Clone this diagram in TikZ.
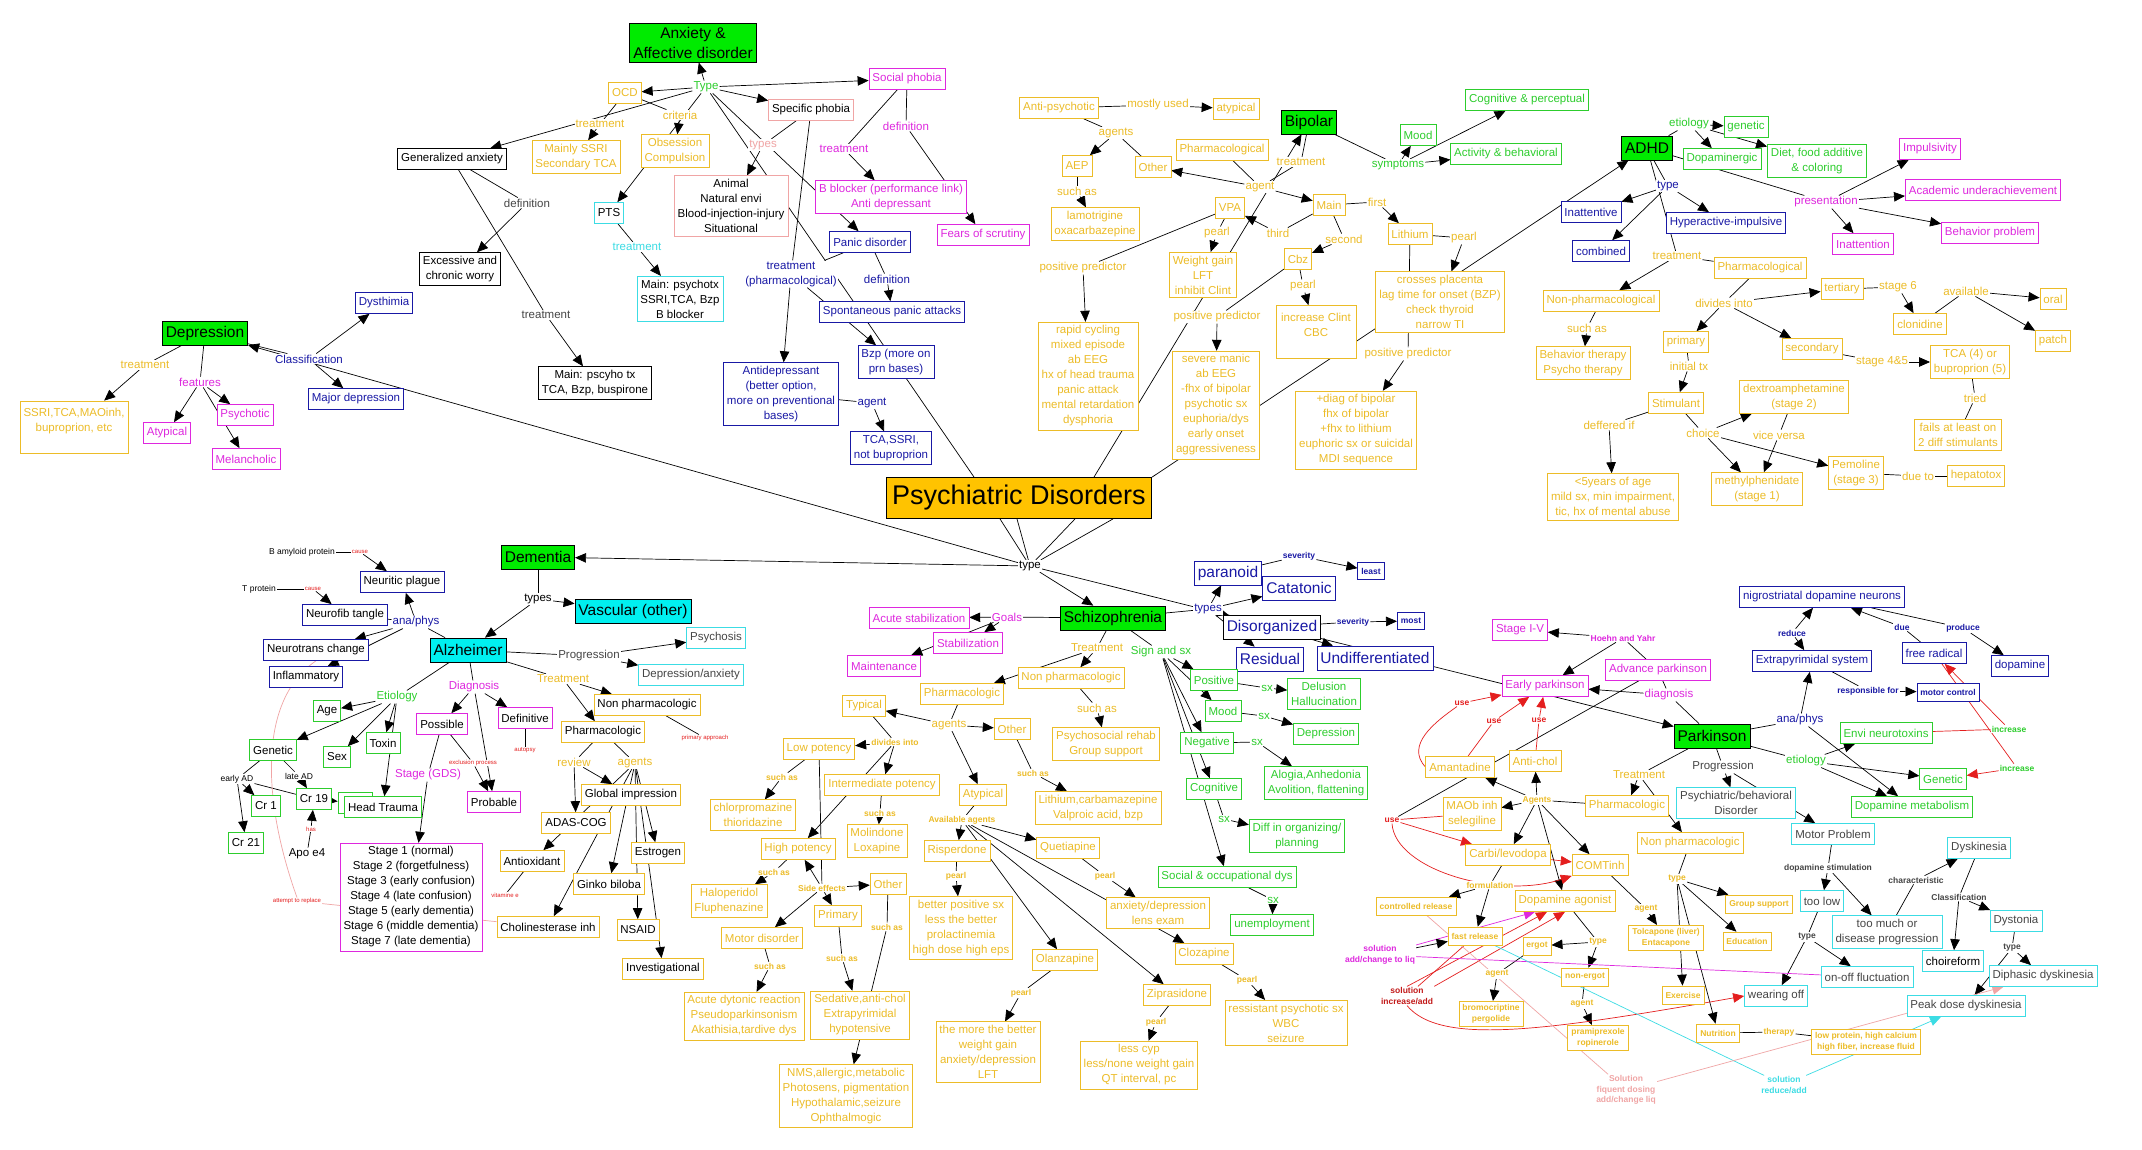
\documentclass[tikz,border=0pt]{standalone}
\usepackage{fontspec}
\setmainfont{Liberation Sans}
\usetikzlibrary{arrows.meta}
\pgfdeclarelayer{bg}
\pgfsetlayers{bg,main}
\definecolor{gold}{RGB}{236,188,40}
\definecolor{mag}{RGB}{222,40,222}
\definecolor{navy}{RGB}{25,25,165}
\definecolor{grn}{RGB}{45,205,45}
\definecolor{cyn}{RGB}{60,220,228}
\definecolor{pnk}{RGB}{240,165,165}
\definecolor{rd}{RGB}{228,30,30}
\definecolor{limefill}{RGB}{0,235,0}
\definecolor{cyanfill}{RGB}{0,240,240}
\definecolor{orng}{RGB}{255,195,0}
\definecolor{gry}{RGB}{70,70,70}

\begin{document}
\begin{tikzpicture}[x=1pt,y=-1pt,
  every node/.style={fill=white, inner xsep=3.5pt, inner ysep=3.5pt, align=center,
    font=\fontsize{11.5}{15}\selectfont},
  bx/.style={draw, line width=0.7pt, minimum height=21pt},
  ybx/.style={bx, draw=gold, text=gold},
  ykb/.style={bx, draw=gold},
  gbx/.style={bx, draw=grn, text=grn},
  gkb/.style={bx, draw=grn},
  mbx/.style={bx, draw=mag, text=mag},
  mkb/.style={bx, draw=mag},
  nbx/.style={bx, draw=navy, text=navy},
  nkb/.style={bx, draw=navy},
  cbx/.style={bx, draw=cyn, text=gry},
  kbx/.style={bx, draw=black},
  pkb/.style={bx, draw=pnk},
  hd/.style={draw, line width=0.7pt, fill=limefill, minimum height=24pt, font=\fontsize{15.5}{20}\selectfont},
  hdc/.style={hd, fill=cyanfill},
  bigf/.style={font=\fontsize{15.5}{20}\selectfont, minimum height=24pt},
  smb/.style={font=\fontsize{8.5}{10.5}\selectfont\bfseries, minimum height=18pt},
  lk/.style={inner sep=1pt},
  ylk/.style={lk, text=gold},
  sl/.style={inner sep=1pt, font=\fontsize{8.5}{10.5}\selectfont\bfseries},
  ysl/.style={sl, text=gold},
  tl/.style={inner sep=0.5pt, text=rd, font=\fontsize{6}{7}\selectfont},
  ln/.style={line width=0.7pt},
  arr/.style={line width=0.7pt, -{Triangle[length=11pt,width=9.5pt]}},
  rln/.style={ln, draw=rd},
  rarr/.style={arr, draw=rd},
]
\useasboundingbox (0,0) rectangle (2142,1150);

% ---- anxiety
\node[hd] (anx) at (693,43) {Anxiety \&\\Affective disorder};
\node[lk, text=grn] (tyA) at (706,87) {Type};
\node[ybx] (ocd) at (625,93) {OCD};
\node[ylk] (crit) at (680,115) {criteria};
\node[ylk] (trO) at (600,124) {treatment};
\node[ybx] (ssri) at (576,157) {Mainly SSRI\\Secondary TCA};
\node[ybx] (obs) at (675,151) {Obsession\\Compulsion};
\node[bx, draw=cyn] (pts) at (609,213) {PTS};
\node[lk, text=cyn] (trP) at (637,247) {treatment};
\node[bx, draw=cyn] (ptsT) at (680,299) {Main: psychotx\\SSRI,TCA, Bzp\\B blocker};
\node[pkb] (spec) at (811,110) {Specific phobia};
\node[lk, text=pnk] (tyS) at (763,145) {types};
\node[pkb] (anim) at (731,206) {Animal\\Natural envi\\Blood-injection-injury\\Situational};
\node[mbx] (soc) at (907,79) {Social phobia};
\node[lk, text=mag] (defS) at (906,126) {definition};
\node[lk, text=mag] (trS) at (844,149) {treatment};
\node[mbx] (bbl) at (891,197) {B blocker (performance link)\\Anti depressant};
\node[mbx] (fear) at (983,235) {Fears of scrutiny};
\node[nbx] (pan) at (870,242) {Panic disorder};
\node[lk, text=navy] (defP) at (887,279) {definition};
\node[lk, text=navy] (trPh) at (791,274) {treatment\\(pharmacological)};
\node[nbx] (spon) at (892,312) {Spontaneous panic attacks};
\node[nbx] (bzp) at (896,362) {Bzp (more on\\prn bases)};
\node[nbx] (antid) at (781,394) {Antidepressant\\(better option,\\more on preventional\\bases)};
\node[lk, text=navy] (agA) at (872,403) {agent};
\node[nbx] (tca) at (891,448) {TCA,SSRI,\\not buproprion};
\node[kbx] (gad) at (452,159) {Generalized anxiety};
\node[lk, text=gry] (defG) at (527,203) {definition};
\node[kbx] (worry) at (460,269) {Excessive and\\chronic worry};
\node[lk, text=gry] (trG) at (546,315) {treatment};
\node[kbx] (gadT) at (595,383) {Main: pscyho tx\\TCA, Bzp, buspirone};

% ---- depression
\node[hd] (dep) at (205,333) {Depression};
\node[ylk] (trD) at (145,365) {treatment};
\node[lk, text=mag] (feat) at (200,382) {features};
\node[lk, text=navy] (cls) at (309,359) {Classification};
\node[nbx] (dys) at (384,303) {Dysthimia};
\node[nbx] (maj) at (356,399) {Major depression};
\node[ybx, minimum height=52pt] (depT) at (74,427) {SSRI,TCA,MAOinh,\\buproprion, etc\\\mbox{}};
\node[mbx] (atyD) at (167,433) {Atypical};
\node[mbx] (psyD) at (245,415) {Psychotic};
\node[mbx] (mel) at (246,459) {Melancholic};

% ---- root
\node[draw, line width=0.7pt, fill=orng, inner xsep=6pt, inner ysep=8pt,
  font=\fontsize{27}{30}\selectfont] (pd) at (1019,498) {Psychiatric Disorders};
\node[lk] (tyPD) at (1030,566) {type};

% ---- bipolar
\node[ybx] (antp) at (1059,108) {Anti-psychotic};
\node[ylk] (most) at (1158,105) {mostly used};
\node[ybx] (atyp) at (1236,109) {atypical};
\node[ylk] (agB) at (1116,133) {agents};
\node[ybx] (aep) at (1077,166) {AEP};
\node[ylk] (suB) at (1077,191) {such as};
\node[ybx] (lamo) at (1095,224) {lamotrigine\\oxacarbazepine};
\node[ybx] (othB) at (1153,167) {Other};
\node[ybx] (phB) at (1222,150) {Pharmacological};
\node[hd] (bip) at (1309,122) {Bipolar};
\node[ylk] (trB) at (1301,162) {treatment};
\node[ylk] (agtB) at (1260,187) {agent};
\node[ybx] (mainB) at (1329,205) {Main};
\node[ylk] (fst) at (1377,202) {first};
\node[ybx] (lith) at (1410,234) {Lithium};
\node[ylk] (prL) at (1464,238) {pearl};
\node[ybx] (vpa) at (1230,208) {VPA};
\node[ylk] (prV) at (1217,233) {pearl};
\node[ylk] (thd) at (1278,233) {third};
\node[ylk] (snd) at (1344,239) {second};
\node[ybx] (cbz) at (1298,259) {Cbz};
\node[ylk] (prC) at (1303,286) {pearl};
\node[ybx] (wgt) at (1203,275) {Weight gain\\LFT\\inhibit Clint};
\node[ylk] (ppC) at (1217,317) {positive predictor};
\node[ybx, minimum width=80pt, minimum height=53pt] (incC) at (1316,332) {increase Clint\\CBC\\\mbox{}};
\node[ybx] (plac) at (1440,302) {crosses placenta\\lag time for onset (BZP)\\check thyroid\\narrow TI};
\node[ylk] (ppL) at (1408,354) {positive predictor};
\node[ybx] (diag) at (1356,430) {+diag of bipolar\\fhx of bipolar\\+fhx to lithium\\euphoric sx or suicidal\\MDI sequence};
\node[ybx] (sev) at (1216,405) {severe manic\\ab EEG\\-fhx of bipolar\\psychotic sx\\euphoria/dys\\early onset\\aggressiveness};
\node[ylk] (ppV) at (1083,268) {positive predictor};
\node[ybx] (rapid) at (1088,376) {rapid cycling\\mixed episode\\ab EEG\\hx of head trauma\\panic attack\\mental retardation\\dysphoria};
\node[lk, text=grn] (sym) at (1398,165) {symptoms};
\node[gbx] (mood) at (1418,135) {Mood};
\node[gbx] (cogp) at (1527,100) {Cognitive \& perceptual};
\node[gbx] (actb) at (1506,154) {Activity \& behavioral};

% ---- adhd
\node[hd] (adhd) at (1647,148) {ADHD};
\node[lk, text=grn] (etA) at (1689,124) {etiology};
\node[gbx] (gen) at (1746,127) {genetic};
\node[gbx] (dopa) at (1722,159) {Dopaminergic};
\node[gbx] (diet) at (1817,161) {Diet, food additive\\\& coloring};
\node[lk, text=navy] (tyH) at (1668,186) {type};
\node[nbx] (inat) at (1591,212) {Inattentive};
\node[nbx] (comb) at (1601,251) {combined};
\node[nbx] (hyp) at (1726,223) {Hyperactive-impulsive};
\node[lk, text=mag] (pres) at (1826,202) {presentation};
\node[mbx] (imp) at (1930,149) {Impulsivity};
\node[mbx] (acad) at (1983,190) {Academic underachievement};
\node[mbx] (behp) at (1990,233) {Behavior problem};
\node[mbx] (inatt) at (1863,244) {Inattention};
\node[ylk] (trH) at (1677,256) {treatment};
\node[ybx] (phH) at (1760,268) {Pharmacological};
\node[ybx] (nphH) at (1601,301) {Non-pharmacological};
\node[ylk] (suH) at (1587,328) {such as};
\node[ybx] (behT) at (1583,363) {Behavior therapy\\Psycho therapy};
\node[ylk] (divH) at (1724,303) {divides into};
\node[ybx] (prim) at (1686,342) {primary};
\node[ylk] (init) at (1689,366) {initial tx};
\node[ybx] (tert) at (1842,289) {tertiary};
\node[ylk] (st6) at (1898,287) {stage 6};
\node[ylk] (avl) at (1966,291) {available};
\node[ybx] (clon) at (1920,324) {clonidine};
\node[ybx] (oral) at (2053,299) {oral};
\node[ybx] (ptch) at (2053,341) {patch};
\node[ybx] (secd) at (1812,349) {secondary};
\node[ylk] (st45) at (1882,362) {stage 4\&5};
\node[ybx] (tca45) at (1970,362) {TCA (4) or\\buproprion (5)};
\node[ylk] (tried) at (1975,398) {tried};
\node[ybx] (fail) at (1958,435) {fails at least on\\2 diff stimulants};
\node[ybx] (stim) at (1676,403) {Stimulant};
\node[ybx] (dext) at (1794,397) {dextroamphetamine\\(stage 2)};
\node[ylk] (defr) at (1609,425) {deffered if};
\node[ylk] (chc) at (1703,433) {choice};
\node[ylk] (vice) at (1779,435) {vice versa};
\node[ybx] (lt5) at (1613,497) {<5years of age\\mild sx, min impairment,\\tic, hx of mental abuse};
\node[ybx] (meth) at (1757,489) {methylphenidate\\(stage 1)};
\node[ybx] (pem) at (1856,473) {Pemoline\\(stage 3)};
\node[ylk] (due) at (1918,476) {due to};
\node[ybx] (hep) at (1976,476) {hepatotox};

% ---- dementia
\node[hd] (dem) at (538,557) {Dementia};
\node[lk] (tyDm) at (538,599) {types};
\node[hdc] (vas) at (633,611) {Vascular (other)};
\node[hdc] (alz) at (468,650) {Alzheimer};
\node[lk, text=gry] (prog) at (589,656) {Progression};
\node[cbx] (psyc) at (716,638) {Psychosis};
\node[cbx] (dpax) at (691,675) {Depression/anxiety};
\node[ylk] (trAz) at (563,679) {Treatment};
\node[ykb] (nphA) at (647,705) {Non pharmacologic};
\node[tl] (prap) at (705,738) {primary approach};
\node[ykb] (phA) at (603,732) {Pharmacologic};
\node[mkb] (defi) at (525,718) {Definitive};
\node[tl] (autp) at (525,750) {autopsy};
\node[ylk] (rev) at (574,762) {review};
\node[ylk] (agAz) at (635,763) {agents};
\node[lk, text=mag] (diagA) at (474,687) {Diagnosis};
\node[lk, text=grn] (etAz) at (397,697) {Etiology};
\node[mkb] (poss) at (442,724) {Possible};
\node[tl] (excl) at (473,763) {exclusion process};
\node[lk, text=mag] (gds) at (428,775) {Stage (GDS)};
\node[mkb] (prob) at (494,802) {Probable};
\node[gkb] (age) at (327,711) {Age};
\node[gkb] (genA) at (273,750) {Genetic};
\node[gkb] (sex) at (337,757) {Sex};
\node[gkb] (tox) at (383,743) {Toxin};
\node[gkb, minimum width=34pt] (htr0) at (355,803) {};
\node[gkb] (htr) at (383,807) {Head Trauma};
\node[sl, font=\fontsize{8.5}{10.5}\selectfont] (eAD) at (237,779) {early AD};
\node[sl, font=\fontsize{8.5}{10.5}\selectfont] (lAD) at (299,776) {late AD};
\node[gkb] (cr1) at (266,806) {Cr 1};
\node[gkb] (cr19) at (314,799) {Cr 19};
\node[gkb] (cr21) at (246,843) {Cr 21};
\node[tl] (has) at (311,829) {has};
\node[lk] (apo) at (307,854) {Apo e4};
\node[tl] (atmp) at (297,901) {attempt to replace};
\node[mkb] (stg) at (411,897) {Stage 1 (normal)\\Stage 2 (forgetfulness)\\Stage 3 (early confusion)\\Stage 4 (late confusion)\\Stage 5 (early dementia)\\Stage 6 (middle dementia)\\Stage 7 (late dementia)};
\node[nkb] (infl) at (306,677) {Inflammatory};
\node[nkb] (ntc) at (316,650) {Neurotrans change};
\node[nkb] (nft) at (345,615) {Neurofib tangle};
\node[nkb] (npl) at (402,582) {Neuritic plague};
\node[lk, text=navy] (anaA) at (416,622) {ana/phys};
\node[sl, font=\fontsize{8.5}{10.5}\selectfont] (bam) at (302,552) {B amyloid protein};
\node[tl] (cs1) at (360,552) {cause};
\node[sl, font=\fontsize{8.5}{10.5}\selectfont] (tpr) at (259,589) {T protein};
\node[tl] (cs2) at (313,589) {cause};
\node[ykb] (glob) at (631,795) {Global impression};
\node[ykb] (adas) at (576,823) {ADAS-COG};
\node[ykb] (antx) at (532,861) {Antioxidant};
\node[tl] (vite) at (505,895) {vitamine e};
\node[ykb] (chol) at (548,927) {Cholinesterase inh};
\node[ykb] (gink) at (609,884) {Ginko biloba};
\node[ykb] (estr) at (658,853) {Estrogen};
\node[ykb] (nsaid) at (638,930) {NSAID};
\node[ykb] (invs) at (663,969) {Investigational};

% ---- schizophrenia
\node[hd] (sch) at (1113,618) {Schizophrenia};
\node[lk, text=mag] (goal) at (1007,617) {Goals};
\node[mbx] (acst) at (919,618) {Acute stabilization};
\node[mbx] (stab) at (968,643) {Stabilization};
\node[mbx] (mnt) at (884,666) {Maintenance};
\node[ylk] (trSc) at (1097,648) {Treatment};
\node[ybx] (nphS) at (1071,678) {Non pharmacologic};
\node[ylk] (suS) at (1097,708) {such as};
\node[ybx] (psr) at (1106,744) {Psychosocial rehab\\Group support};
\node[ybx] (phS) at (962,694) {Pharmacologic};
\node[ylk] (agS) at (949,725) {agents};
\node[ybx] (typ) at (864,706) {Typical};
\node[ybx] (othS) at (1012,729) {Other};
\node[ysl] (suO) at (1033,773) {such as};
\node[ybx] (lcv) at (1098,808) {Lithium,carbamazepine\\Valproic acid, bzp};
\node[ysl] (divS) at (895,742) {divides into};
\node[ybx] (lowp) at (819,749) {Low potency};
\node[ybx] (intp) at (882,785) {Intermediate potency};
\node[ysl] (suL) at (782,777) {such as};
\node[ybx] (chlp) at (753,815) {chlorpromazine\\thioridazine};
\node[ysl] (suI) at (880,813) {such as};
\node[ybx] (molx) at (877,841) {Molindone\\Loxapine};
\node[ybx] (higp) at (798,849) {High potency};
\node[ysl] (suHp) at (774,872) {such as};
\node[ybx] (halo) at (729,901) {Haloperidol\\Fluphenazine};
\node[ysl] (sdef) at (822,888) {Side effects};
\node[ybx] (othSE) at (888,884) {Other};
\node[ysl] (suOS) at (887,927) {such as};
\node[ybx] (primS) at (838,916) {Primary};
\node[ysl] (suP) at (842,958) {such as};
\node[ybx] (sed) at (860,1015) {Sedative,anti-chol\\Extrapyrimidal\\hypotensive};
\node[ybx] (nms) at (846,1096) {NMS,allergic,metabolic\\Photosens, pigmentation\\Hypothalamic,seizure\\Ophthalmogic};
\node[ybx] (motd) at (762,938) {Motor disorder};
\node[ysl] (suM) at (770,966) {such as};
\node[ybx] (acut) at (744,1016) {Acute dytonic reaction\\Pseudoparkinsonism\\Akathisia,tardive dys};
\node[ybx] (atyS) at (983,795) {Atypical};
\node[ysl] (avag) at (962,820) {Available agents};
\node[ybx] (risp) at (957,851) {Risperdone};
\node[ysl] (prR) at (956,876) {pearl};
\node[ybx] (rispP) at (961,928) {better positive sx\\less the better\\prolactinemia\\high dose high eps};
\node[ybx] (quet) at (1068,848) {Quetiapine};
\node[ysl] (prQ) at (1105,876) {pearl};
\node[ybx] (quetP) at (1158,913) {anxiety/depression\\lens exam};
\node[ybx] (olan) at (1065,960) {Olanzapine};
\node[ysl] (prO) at (1021,993) {pearl};
\node[ybx] (olanP) at (988,1052) {the more the better\\weight gain\\anxiety/depression\\LFT};
\node[ybx] (cloz) at (1204,954) {Clozapine};
\node[ysl] (prCz) at (1247,980) {pearl};
\node[ybx] (clozP) at (1286,1023) {ressistant psychotic sx\\WBC\\seizure};
\node[ybx] (zipr) at (1177,995) {Ziprasidone};
\node[ysl] (prZ) at (1156,1022) {pearl};
\node[ybx] (ziprP) at (1139,1065) {less cyp\\less/none weight gain\\QT interval, pc};
\node[lk, text=navy] (tySc) at (1208,609) {types};
\node[nbx, bigf] (para) at (1228,573) {paranoid};
\node[nbx, bigf] (cata) at (1299,588) {Catatonic};
\node[sl, text=navy] (sev1) at (1299,556) {severity};
\node[nbx, smb, minimum height=17pt] (least) at (1371,571) {least};
\node[kbx, bigf, text=navy] (disz) at (1272,627) {Disorganized};
\node[sl, text=navy] (sev2) at (1353,622) {severity};
\node[nbx, smb, minimum height=17pt] (mostS) at (1411,621) {most};
\node[nbx, bigf] (resd) at (1270,659) {Residual};
\node[nbx, bigf] (undf) at (1375,658) {Undifferentiated};
\node[lk, text=grn] (sgn) at (1161,652) {Sign and sx};
\node[gbx] (posv) at (1214,680) {Positive};
\node[lk, text=grn] (sx1) at (1267,688) {sx};
\node[gbx] (dlus) at (1324,694) {Delusion\\Hallucination};
\node[gbx] (moodS) at (1223,711) {Mood};
\node[lk, text=grn] (sx2) at (1264,716) {sx};
\node[gbx] (depS) at (1326,734) {Depression};
\node[gbx] (negv) at (1207,743) {Negative};
\node[lk, text=grn] (sx3) at (1257,742) {sx};
\node[gbx] (alog) at (1316,783) {Alogia,Anhedonia\\Avolition, flattening};
\node[gbx] (cogn) at (1214,789) {Cognitive};
\node[lk, text=grn] (sx4) at (1224,819) {sx};
\node[gbx] (diff) at (1297,836) {Diff in organizing/\\planning};
\node[gbx] (socd) at (1227,877) {Social \& occupational dys};
\node[lk, text=grn] (sx5) at (1273,900) {sx};
\node[gbx] (unem) at (1272,925) {unemployment};

% ---- parkinson
\node[hd] (park) at (1712,736) {Parkinson};
\node[nbx] (nigr) at (1822,597) {nigrostriatal dopamine neurons};
\node[sl, text=navy] (redu) at (1792,633) {reduce};
\node[sl, text=navy] (dueP) at (1902,627) {due};
\node[sl, text=navy] (prod) at (1963,628) {produce};
\node[nbx] (extr) at (1812,661) {Extrapyrimidal system};
\node[nbx] (frad) at (1934,653) {free radical};
\node[nbx] (dopm) at (2020,666) {dopamine};
\node[sl, text=navy] (resp) at (1868,691) {responsible for};
\node[nbx, smb] (motc) at (1948,692) {motor control};
\node[gbx] (envi) at (1886,733) {Envi neurotoxins};
\node[sl, text=grn] (inc1) at (2009,729) {increase};
\node[sl, text=grn] (inc2) at (2017,768) {increase};
\node[lk, text=navy] (anaP) at (1800,720) {ana/phys};
\node[lk, text=grn] (etP) at (1806,761) {etiology};
\node[gbx] (genP) at (1943,779) {Genetic};
\node[lk, text=mag] (diagP) at (1669,695) {diagnosis};
\node[mbx] (advp) at (1658,670) {Advance parkinson};
\node[sl, text=mag] (hoeh) at (1623,638) {Hoehn and Yahr};
\node[mbx] (st15) at (1520,630) {Stage I-V};
\node[mbx] (earp) at (1545,686) {Early parkinson};
\node[lk, text=gry] (progP) at (1723,767) {Progression};
\node[ylk] (trPk) at (1639,775) {Treatment};
\node[gbx] (dmet) at (1912,807) {Dopamine metabolism};
\node[cbx] (psbd) at (1736,803) {Psychiatric/behavioral\\Disorder};
\node[ybx] (phP) at (1627,806) {Pharmacologic};
\node[ybx] (nphP) at (1690,843) {Non pharmacologic};
\node[ybx] (comt) at (1600,865) {COMTinh};
\node[ybx] (dag) at (1565,901) {Dopamine agonist};
\node[ysl] (agC) at (1646,909) {agent};
\node[ysl] (tyNP) at (1677,879) {type};
\node[ybx, smb] (grps) at (1759,904) {Group support};
\node[ybx, smb] (tolc) at (1666,938) {Tolcapone (liver)\\Entacapone};
\node[ybx, smb] (educ) at (1747,941) {Education};
\node[ybx, smb] (exer) at (1683,995) {Exercise};
\node[ybx, smb] (nutr) at (1718,1033) {Nutrition};
\node[ysl] (thrp) at (1779,1032) {therapy};
\node[ybx, smb] (lowpr) at (1866,1042) {low protein, high calcium\\high fiber, increase fluid};
\node[ysl] (tyDA) at (1598,942) {type};
\node[ybx, smb] (nerg) at (1585,977) {non-ergot};
\node[ysl] (agNE) at (1582,1004) {agent};
\node[ybx, smb] (pram) at (1598,1038) {pramiprexole\\ropinerole};
\node[cbx] (wear) at (1776,996) {wearing off};
\node[cbx] (onof) at (1867,977) {on-off fluctuation};
\node[sl, text=gry] (tyTL) at (1807,937) {type};
\node[cbx] (tlow) at (1822,901) {too low};
\node[cbx] (motp) at (1833,834) {Motor Problem};
\node[sl, text=gry] (dsti) at (1828,868) {dopamine stimulation};
\node[cbx] (tmuch) at (1887,932) {too much or\\disease progression};
\node[sl, text=gry] (chr) at (1916,880) {characteristic};
\node[cbx] (dysk) at (1979,848) {Dyskinesia};
\node[sl, text=gry] (clsP) at (1959,897) {Classification};
\node[bx, draw=cyn] (chor) at (1953,961) {choireform};
\node[cbx] (dyst) at (2016,921) {Dystonia};
\node[sl, text=gry] (tyDy) at (2012,948) {type};
\node[cbx] (diph) at (2043,976) {Diphasic dyskinesia};
\node[cbx] (peak) at (1966,1006) {Peak dose dyskinesia};
\node[sl, text=cyn] (solC) at (1784,1085) {solution\\reduce/add};
\node[sl, text=pnk] (solP) at (1626,1090) {Solution\\fiquent dosing\\add/change liq};
\node[ysl] (agtP) at (1537,800) {Agents};
\node[ybx] (maob) at (1472,814) {MAOb inh\\selegiline};
\node[sl, text=rd] (use3) at (1392,820) {use};
\node[ybx] (carb) at (1508,855) {Carbi/levodopa};
\node[ysl] (form) at (1490,885) {formulation};
\node[ybx, smb] (ctrl) at (1416,906) {controlled release};
\node[ybx, smb] (fast) at (1475,936) {fast release};
\node[ybx, smb] (ergt) at (1537,946) {ergot};
\node[ysl] (agE) at (1497,974) {agent};
\node[ybx, smb] (brom) at (1491,1014) {bromocriptine\\pergolide};
\node[sl, text=mag] (solM) at (1380,955) {solution\\add/change to liq};
\node[sl, text=rd!85!black] (solR) at (1407,996) {solution\\increase/add};
\node[sl, text=rd] (use0) at (1462,703) {use};
\node[sl, text=rd] (use1) at (1494,721) {use};
\node[sl, text=rd] (use2) at (1539,720) {use};
\node[ybx] (amnt) at (1460,767) {Amantadine};
\node[ybx] (achl) at (1535,761) {Anti-chol};

\begin{pgfonlayer}{bg}
\fill[white] (0,0) rectangle (2142,1150);
% root links
\draw[ln] ([xshift=-19]pd.south) -- (tyPD);
\draw[ln] ([xshift=-2]pd.south) -- (tyPD);
\draw[ln] ([xshift=56]pd.south) -- (tyPD);
\draw[ln] ([xshift=94]pd.south) -- (tyPD);
\draw[arr] (tyPD) -- (dem);
\draw[arr] (tyPD) -- (dep);
\draw[arr] (tyPD) -- (sch);
\draw[arr] (tyPD) -- (park);
\draw[ln] ([xshift=-45]pd.north) -- (tyA);
\draw[arr] ([xshift=75]pd.north) -- (bip);
\draw[arr] (pd.north east) -- (adhd);

% anxiety links
\draw[arr] (tyA) -- (anx);
\draw[arr] (tyA) -- (ocd);
\draw[arr] (tyA) -- (spec);
\draw[arr] (tyA) -- (soc);
\draw[arr] (tyA) -- (pan);
\draw[arr] (tyA) -- (gad);
\draw[arr] (tyA) -- (pts);
\draw[ln] (ocd) -- (crit);
\draw[arr] (crit) -- (obs);
\draw[ln] (ocd) -- (trO);
\draw[arr] (trO) -- (ssri);
\draw[ln] (pts) -- (trP);
\draw[arr] (trP) -- (ptsT);
\draw[ln] (spec) -- (tyS);
\draw[arr] (tyS) -- (anim);
\draw[ln] (spec) -- (trPh);
\draw[ln] (pan) -- (trPh);
\draw[arr] (trPh) -- (antid);
\draw[arr] (trPh) -- (bzp);
\draw[ln] (pan) -- (defP);
\draw[arr] (defP) -- (spon);
\draw[ln] (antid) -- (agA);
\draw[arr] (agA) -- (tca);
\draw[ln] (soc) -- (trS);
\draw[arr] (trS) -- (bbl);
\draw[ln] (soc) -- (defS);
\draw[arr] (defS) -- (fear);
\draw[ln] (gad) -- (defG);
\draw[arr] (defG) -- (worry);
\draw[ln] (gad) -- (trG);
\draw[arr] (trG) -- (gadT);

% depression links
\draw[ln] (dep) -- (cls);
\draw[arr] (cls) -- (dys);
\draw[arr] (cls) -- (maj);
\draw[ln] (dep) -- (trD);
\draw[arr] (trD) -- (depT);
\draw[ln] (dep) -- (feat);
\draw[arr] (feat) -- (atyD);
\draw[arr] (feat) -- (psyD);
\draw[arr] (feat) -- (mel);

% bipolar links
\draw[ln] (bip) -- (trB);
\draw[ln] (trB) -- (agtB);
\draw[ln] (phB) -- (agtB);
\draw[arr] (agtB) -- (othB);
\draw[arr] (agtB) -- (mainB);
\draw[ln] (antp) -- (most);
\draw[arr] (most) -- (atyp);
\draw[ln] (antp) -- (agB);
\draw[ln] (othB) -- (agB);
\draw[arr] (agB) -- (aep);
\draw[ln] (aep) -- (suB);
\draw[arr] (suB) -- (lamo);
\draw[ln] (mainB) -- (fst);
\draw[arr] (fst) -- (lith);
\draw[ln] (mainB) -- (snd);
\draw[arr] (snd) -- (cbz);
\draw[ln] (mainB) -- (thd);
\draw[arr] (thd) -- (vpa);
\draw[ln] (vpa) -- (prV);
\draw[arr] (prV) -- (wgt);
\draw[ln] (vpa) -- (ppV);
\draw[arr] (ppV) -- (rapid);
\draw[ln] (cbz) -- (prC);
\draw[arr] (prC) -- (incC);
\draw[ln] (cbz) -- (ppC);
\draw[arr] (ppC) -- (sev);
\draw[ln] (lith) -- (prL);
\draw[arr] (prL) -- (plac);
\draw[ln] (lith) -- (ppL);
\draw[arr] (ppL) -- (diag);
\draw[ln] (bip) -- (sym);
\draw[arr] (sym) -- (mood);
\draw[arr] (sym) -- (cogp);
\draw[arr] (sym) -- (actb);

% adhd links
\draw[ln] (adhd) -- (etA);
\draw[arr] (etA) -- (gen);
\draw[arr] (etA) -- (dopa);
\draw[arr] (etA) -- (diet);
\draw[ln] (adhd) -- (tyH);
\draw[arr] (tyH) -- (inat);
\draw[arr] (tyH) -- (comb);
\draw[arr] (tyH) -- (hyp);
\draw[ln] (adhd) -- (pres);
\draw[arr] (pres) -- (imp);
\draw[arr] (pres) -- (acad);
\draw[arr] (pres) -- (behp);
\draw[arr] (pres) -- (inatt);
\draw[ln] (adhd) -- (trH);
\draw[arr] (trH) -- (nphH);
\draw[ln] (trH) -- (phH);
\draw[ln] (nphH) -- (suH);
\draw[arr] (suH) -- (behT);
\draw[ln] (phH) -- (divH);
\draw[arr] (divH) -- (prim);
\draw[arr] (divH) -- (tert);
\draw[arr] (divH) -- (secd);
\draw[ln] (tert) -- (st6);
\draw[arr] (st6) -- (clon);
\draw[ln] (clon) -- (avl);
\draw[arr] (avl) -- (oral);
\draw[arr] (avl) -- (ptch);
\draw[ln] (secd) -- (st45);
\draw[arr] (st45) -- (tca45);
\draw[ln] (tca45) -- (tried);
\draw[ln] (tried) -- (fail);
\draw[ln] (prim) -- (init);
\draw[arr] (init) -- (stim);
\draw[ln] (stim) -- (defr);
\draw[arr] (defr) -- (lt5);
\draw[ln] (stim) -- (chc);
\draw[arr] (chc) -- (dext);
\draw[arr] (chc) -- (meth);
\draw[arr] (chc) -- (pem);
\draw[ln] (dext) -- (vice);
\draw[arr] (vice) -- (meth);
\draw[ln] (pem) -- (due);
\draw[ln] (due) -- (hep);

% dementia links
\draw[ln] (dem) -- (tyDm);
\draw[arr] (tyDm) -- (vas);
\draw[arr] (tyDm) -- (alz);
\draw[ln] (alz) -- (prog);
\draw[arr] (prog) -- (psyc);
\draw[arr] (prog) -- (dpax);
\draw[ln] (alz) -- (trAz);
\draw[arr] (trAz) -- (nphA);
\draw[arr] (trAz) -- (phA);
\draw[ln] (nphA) -- (prap);
\draw[ln] (phA) -- (rev);
\draw[arr] (rev) -- (glob);
\draw[arr] (rev) -- (adas);
\draw[ln] (phA) -- (agAz);
\draw[arr] (agAz) -- (antx);
\draw[arr] (agAz) -- (chol);
\draw[arr] (agAz) -- (gink);
\draw[arr] (agAz) -- (estr);
\draw[arr] (agAz) -- (nsaid);
\draw[arr] (agAz) -- (invs);
\draw[ln] (antx) -- (vite);
\draw[ln] (alz) -- (diagA);
\draw[arr] (diagA) -- (poss);
\draw[arr] (diagA) -- (defi);
\draw[arr] (diagA) -- (prob);
\draw[ln] (poss) -- (gds);
\draw[arr] (gds) -- (stg);
\draw[ln] (poss) -- (excl);
\draw[arr] (excl) -- (prob);
\draw[ln] (defi) -- (autp);
\draw[ln] (alz) -- (etAz);
\draw[arr] (etAz) -- (age);
\draw[arr] (etAz) -- (genA);
\draw[arr] (etAz) -- (sex);
\draw[arr] (etAz) -- (tox);
\draw[arr] (etAz) -- (htr);
\draw[ln] (genA) -- (eAD);
\draw[arr] (eAD) -- (cr21);
\draw[arr] (eAD) -- (cr1);
\draw[ln] (eAD) -- (cr19);
\draw[ln] (genA) -- (lAD);
\draw[arr] (lAD) -- (cr19);
\draw[arr] (cr19) -- (htr0);
\draw[ln] (apo) -- (has);
\draw[arr] (has) -- (cr19);
\draw[ln] (alz) -- (anaA);
\draw[arr] (anaA) -- (npl);
\draw[ln] (anaA) -- (nft);
\draw[arr] (anaA) -- (ntc);
\draw[arr] (anaA) -- (infl);
\draw[ln] (bam) -- (cs1);
\draw[arr] (cs1) -- (npl);
\draw[ln] (tpr) -- (cs2);
\draw[arr] (cs2) -- (nft);
\draw[ln, draw=pnk] (chol) -- (atmp);
\draw[ln, draw=pnk] (atmp.north) .. controls (262,800) and (258,700) .. (ntc.south);

% schizophrenia links
\draw[ln] (sch) -- (goal);
\draw[arr] (goal) -- (acst);
\draw[arr] (goal) -- (stab);
\draw[arr] (goal) -- (mnt);
\draw[ln] (sch) -- (trSc);
\draw[arr] (trSc) -- (nphS);
\draw[arr] (trSc) -- (phS);
\draw[ln] (nphS) -- (suS);
\draw[arr] (suS) -- (psr);
\draw[ln] (phS) -- (agS);
\draw[arr] (agS) -- (typ);
\draw[arr] (agS) -- (othS);
\draw[arr] (agS) -- (atyS);
\draw[ln] (othS) -- (suO);
\draw[arr] (suO) -- (lcv);
\draw[ln] (typ) -- (divS);
\draw[arr] (divS) -- (lowp);
\draw[arr] (divS) -- (intp);
\draw[arr] (divS) -- (higp);
\draw[ln] (lowp) -- (suL);
\draw[arr] (suL) -- (chlp);
\draw[ln] (intp) -- (suI);
\draw[arr] (suI) -- (molx);
\draw[ln] (higp) -- (suHp);
\draw[arr] (suHp) -- (halo);
\draw[ln] (lowp) -- (sdef);
\draw[arr] (sdef) -- (higp);
\draw[arr] (sdef) -- (othSE);
\draw[arr] (sdef) -- (primS);
\draw[arr] (sdef) -- (motd);
\draw[ln] (othSE) -- (suOS);
\draw[arr] (suOS) -- (nms);
\draw[ln] (primS) -- (suP);
\draw[arr] (suP) -- (sed);
\draw[ln] (motd) -- (suM);
\draw[arr] (suM) -- (acut);
\draw[ln] (atyS) -- (avag);
\draw[arr] (avag) -- (risp);
\draw[arr] (avag) -- (quet);
\draw[arr] (avag) -- (olan);
\draw[arr] (avag) -- (cloz);
\draw[arr] (avag) -- (zipr);
\draw[ln] (risp) -- (prR);
\draw[arr] (prR) -- (rispP);
\draw[ln] (quet) -- (prQ);
\draw[arr] (prQ) -- (quetP);
\draw[ln] (olan) -- (prO);
\draw[arr] (prO) -- (olanP);
\draw[ln] (cloz) -- (prCz);
\draw[arr] (prCz) -- (clozP);
\draw[ln] (zipr) -- (prZ);
\draw[arr] (prZ) -- (ziprP);
\draw[ln] (sch) -- (tySc);
\draw[arr] (tySc) -- (para);
\draw[arr] (tySc) -- (cata);
\draw[arr] (tySc) -- (disz);
\draw[arr] (tySc) -- (resd);
\draw[arr] (tySc) -- (undf);
\draw[ln] (para) -- (sev1);
\draw[arr] (sev1) -- (least);
\draw[ln] (disz) -- (sev2);
\draw[arr] (sev2) -- (mostS);
\draw[ln] (sch) -- (sgn);
\draw[arr] (sgn) -- (posv);
\draw[arr] (sgn) -- (moodS);
\draw[arr] (sgn) -- (negv);
\draw[arr] (sgn) -- (cogn);
\draw[arr] (sgn) -- (socd);
\draw[ln] (posv) -- (sx1);
\draw[arr] (sx1) -- (dlus);
\draw[ln] (moodS) -- (sx2);
\draw[arr] (sx2) -- (depS);
\draw[ln] (negv) -- (sx3);
\draw[arr] (sx3) -- (alog);
\draw[ln] (cogn) -- (sx4);
\draw[arr] (sx4) -- (diff);
\draw[ln] (socd) -- (sx5);
\draw[arr] (sx5) -- (unem);

% parkinson links
\draw[ln] (park) -- (anaP);
\draw[arr] (anaP) -- (extr);
\draw[arr] (anaP) -- (dmet);
\draw[arr] (redu) -- (nigr);
\draw[arr] (redu) -- (extr);
\draw[ln] (frad) -- (dueP);
\draw[arr] (dueP) -- (nigr);
\draw[ln] (nigr) -- (prod);
\draw[arr] (prod) -- (dopm);
\draw[ln] (extr) -- (resp);
\draw[arr] (resp) -- (motc);
\draw[rln] (envi) -- (inc1);
\draw[rarr] (inc1) -- (frad);
\draw[rln] (frad) -- (inc2);
\draw[rarr] (inc2) -- (genP);
\draw[ln] (park) -- (etP);
\draw[arr] (etP) -- (envi);
\draw[arr] (etP) -- (genP);
\draw[arr] (etP) -- (dmet);
\draw[ln] (park) -- (diagP);
\draw[arr] (diagP) -- (earp);
\draw[ln] (diagP) -- (advp);
\draw[ln] (advp) -- (hoeh);
\draw[arr] (hoeh) -- (st15);
\draw[arr] (hoeh) -- (earp);
\draw[ln] (advp) -- (use3);
\draw[ln] (park) -- (progP);
\draw[arr] (progP) -- (psbd);
\draw[arr] (progP) -- (motp);
\draw[ln] (park) -- (trPk);
\draw[arr] (trPk) -- (phP);
\draw[arr] (trPk) -- (nphP);
\draw[ln] (phP) -- (agtP);
\draw[arr] (agtP) -- (maob);
\draw[arr] (agtP) -- (carb);
\draw[arr] (agtP) -- (comt);
\draw[arr] (agtP) -- (dag);
\draw[arr] (agtP) -- (achl);
\draw[arr] (agtP) -- (amnt);
\draw[ln] (carb) -- (form);
\draw[arr] (form) -- (ctrl);
\draw[arr] (form) -- (fast);
\draw[ln] (dag) -- (tyDA);
\draw[arr] (tyDA) -- (ergt);
\draw[arr] (tyDA) -- (nerg);
\draw[ln] (ergt) -- (agE);
\draw[arr] (agE) -- (brom);
\draw[ln] (nerg) -- (agNE);
\draw[arr] (agNE) -- (pram);
\draw[ln] (comt) -- (agC);
\draw[arr] (agC) -- (tolc);
\draw[ln] (nphP) -- (tyNP);
\draw[arr] (tyNP) -- (grps);
\draw[arr] (tyNP) -- (educ);
\draw[arr] (tyNP) -- (exer);
\draw[arr] (tyNP) -- (nutr);
\draw[ln] (nutr) -- (thrp);
\draw[ln] (thrp) -- (lowpr);
\draw[ln] (motp) -- (dsti);
\draw[arr] (dsti) -- (tlow);
\draw[arr] (dsti) -- (tmuch);
\draw[ln] (tlow) -- (tyTL);
\draw[arr] (tyTL) -- (wear);
\draw[arr] (tyTL) -- (onof);
\draw[ln] (tmuch) -- (chr);
\draw[arr] (chr) -- (dysk);
\draw[ln] (dysk) -- (clsP);
\draw[arr] (clsP) -- (chor);
\draw[arr] (clsP) -- (dyst);
\draw[ln] (dyst) -- (tyDy);
\draw[arr] (tyDy) -- (diph);
\draw[arr] (tyDy) -- (peak);
% red, magenta, cyan and pink links
\draw[rln] (amnt.west) .. controls (1405,745) and (1435,722) .. (use0);
\draw[rarr] (use0) -- (earp);
\draw[rln] (amnt) -- (use1);
\draw[rarr] (use1) -- (earp);
\draw[rln] (achl) -- (use2);
\draw[rarr] (use2) -- (earp);
\draw[rln] (use3) -- (maob);
\draw[rarr] (use3) -- (carb);
\draw[rarr] (carb) -- (comt);
\draw[rarr] (use3.south) .. controls (1395,870) and (1500,900) .. (comt.south west);
\draw[rln] (solR) -- (fast);
\draw[rarr] (solR.north) -- ([xshift=-18]dag.south);
\draw[rarr] (solR.north east) -- (dag.south);
\draw[rarr] (solR.south) .. controls (1440,1045) and (1540,1032) .. (wear.west);
\draw[ln, draw=mag] (solM) -- (onof);
\draw[arr, draw=mag] (solM) -- ([xshift=-30]dag.south);
\draw[arr] (solM) -- (fast);
\draw[ln, draw=cyn] (fast) -- (solC);
\draw[arr, draw=cyn] (solC) -- (peak);
\draw[ln, draw=pnk] (ctrl) -- (solP);
\draw[arr, draw=pnk] (solP) -- (diph);
\end{pgfonlayer}
\end{tikzpicture}
\end{document}
